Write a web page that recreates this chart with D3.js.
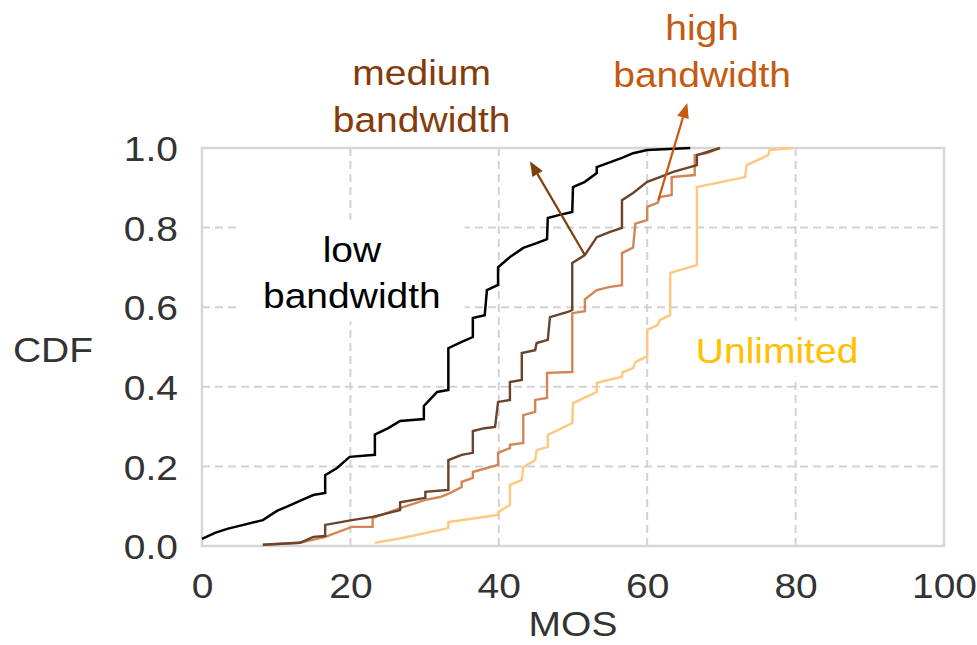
<!DOCTYPE html>
<html>
<head>
<meta charset="utf-8">
<script src="https://cdn.jsdelivr.net/npm/d3@7"></script>
<style>
    body { margin: 0; background: #fff; }
    text { font-family: "Liberation Sans", Arial, sans-serif; }
</style>
</head>
<body>
<svg id="chart" width="977" height="645"></svg>
<script>
const xTicks = [0, 20, 40, 60, 80, 100]
const yTicks = [0, 0.2, 0.4, 0.6, 0.8, 1.0]

// MOS / CDF, one pair of arrays per bandwidth setting
const lowX = [0, 1.75, 3.4, 8.2, 10.1, 11.6, 13.5, 15.0, 16.6, 16.6, 18.2, 19.9, 23.3, 23.3, 25.1, 26.7, 29.9, 29.9, 31.7, 33.2, 33.2, 35.0, 36.5, 36.5, 38.1, 38.4, 39.9, 39.9, 41.5, 43.3, 45.1, 46.5, 46.6, 48.2, 49.9, 50.0, 51.6, 53.2, 53.2, 56.6, 58.1, 60.0, 65.8]
const lowY = [0.018, 0.033, 0.043, 0.065, 0.088, 0.10, 0.116, 0.128, 0.133, 0.178, 0.196, 0.224, 0.229, 0.28, 0.296, 0.314, 0.319, 0.352, 0.387, 0.392, 0.497, 0.513, 0.525, 0.573, 0.58, 0.643, 0.656, 0.70, 0.726, 0.749, 0.761, 0.771, 0.824, 0.832, 0.839, 0.902, 0.915, 0.937, 0.952, 0.975, 0.987, 0.995, 1.0]

const mediumX = [8.2, 13.2, 15.0, 16.6, 16.6, 20.2, 23.0, 26.7, 26.7, 30.1, 30.1, 33.2, 33.2, 35.0, 36.5, 36.5, 38.1, 39.5, 39.9, 41.5, 41.5, 43.1, 43.1, 44.9, 45.1, 46.6, 46.9, 49.3, 49.9, 49.9, 51.6, 53.2, 55.0, 56.6, 56.6, 58.1, 60.0, 61.7, 63.5, 65.4, 66.7, 66.7, 68.1, 69.8]
const mediumY = [0.003, 0.008, 0.023, 0.025, 0.053, 0.065, 0.073, 0.09, 0.11, 0.121, 0.136, 0.141, 0.216, 0.229, 0.234, 0.289, 0.296, 0.299, 0.362, 0.367, 0.412, 0.417, 0.485, 0.492, 0.51, 0.518, 0.575, 0.588, 0.593, 0.711, 0.731, 0.776, 0.789, 0.799, 0.869, 0.887, 0.915, 0.927, 0.94, 0.95, 0.957, 0.982, 0.99, 1.0]

const highX = [8.2, 13.2, 16.6, 20.2, 23.0, 23.0, 26.7, 30.1, 32.1, 33.4, 35.0, 35.0, 36.5, 36.5, 38.4, 39.9, 39.9, 41.5, 41.5, 43.3, 43.3, 44.9, 44.9, 46.5, 46.5, 49.9, 49.9, 51.6, 51.6, 53.2, 55.0, 56.6, 56.6, 58.1, 58.4, 60.0, 60.0, 61.4, 61.7, 63.3, 63.3, 66.4, 66.4, 68.1, 69.8]
const highY = [0.003, 0.008, 0.023, 0.048, 0.048, 0.07, 0.095, 0.116, 0.123, 0.133, 0.148, 0.161, 0.171, 0.186, 0.196, 0.204, 0.234, 0.246, 0.254, 0.259, 0.329, 0.337, 0.367, 0.372, 0.435, 0.437, 0.585, 0.59, 0.62, 0.643, 0.651, 0.655, 0.736, 0.75, 0.81, 0.819, 0.852, 0.862, 0.877, 0.882, 0.927, 0.932, 0.982, 0.987, 1.0]

const unlimitedX = [23.3, 27.0, 33.2, 33.2, 39.9, 39.9, 41.5, 41.5, 43.1, 43.3, 44.9, 45.1, 46.6, 46.6, 49.9, 50.0, 53.2, 53.2, 56.6, 56.7, 58.1, 58.4, 60.0, 60.0, 61.4, 61.7, 63.1, 63.1, 66.7, 66.7, 73.2, 73.4, 76.3, 76.5, 79.6]
const unlimitedY = [0.008, 0.02, 0.045, 0.06, 0.078, 0.085, 0.103, 0.153, 0.166, 0.198, 0.216, 0.241, 0.249, 0.279, 0.309, 0.359, 0.387, 0.41, 0.425, 0.437, 0.447, 0.462, 0.477, 0.543, 0.555, 0.568, 0.58, 0.686, 0.706, 0.902, 0.927, 0.957, 0.982, 0.995, 1.0]

const width = 977
const height = 645
const margin = {top: 148, right: 33, bottom: 99, left: 202}
const squash = 0.9   // text in the figure is a bit flattened
const fontSize = 39

const svg = d3.select("#chart")
svg.append("rect").attr("width", width).attr("height", height).attr("fill", "#fff")

const x = d3.scaleLinear().domain([0, 100]).range([margin.left, width - margin.right])
const y = d3.scaleLinear().domain([0, 1]).range([height - margin.bottom, margin.top])

// dashed grid
svg.append("g")
    .selectAll("line")
    .data(xTicks.slice(1, -1))
    .join("line")
    .attr("x1", d => x(d)).attr("x2", d => x(d))
    .attr("y1", y(0)).attr("y2", y(1))
    .attr("stroke", "#d2d2d2").attr("stroke-width", 2).attr("stroke-dasharray", "8,5")
svg.append("g")
    .selectAll("line")
    .data(yTicks.slice(1, -1))
    .join("line")
    .attr("x1", x(0)).attr("x2", x(100))
    .attr("y1", d => y(d)).attr("y2", d => y(d))
    .attr("stroke", "#d2d2d2").attr("stroke-width", 2).attr("stroke-dasharray", "8,5")

function label(px, py, lines, color, lineGap) {
    const g = svg.append("g")
    lines.forEach((str, i) => {
        g.append("g")
            .attr("transform", `translate(${px},${py + i * lineGap})`)
            .append("text")
            .attr("transform", `scale(1,${squash})`)
            .attr("text-anchor", "middle")
            .attr("fill", color)
            .style("font-size", fontSize + "px")
            .text(str)
    })
    return g
}

// labels inside the plot sit on white boxes that hide the grid
function boxed(g) {
    const b = g.node().getBBox()
    g.insert("rect", ":first-child")
        .attr("x", b.x - 24).attr("y", b.y - 10)
        .attr("width", b.width + 48).attr("height", b.height + 16)
        .attr("fill", "#fff")
}

boxed(label(x(20.2), y(0.714), ["low", "bandwidth"], "#000", 46))
boxed(label(x(77.5), y(0.46), ["Unlimited"], "#ffc000", 0))

// frame
svg.append("rect")
    .attr("x", x(0)).attr("y", y(1))
    .attr("width", x(100) - x(0)).attr("height", y(0) - y(1))
    .attr("fill", "none").attr("stroke", "#d6d6d6").attr("stroke-width", 2.5)

// curves
const series = [
    {xs: unlimitedX, ys: unlimitedY, color: "#ffc77f", w: 2.4},
    {xs: highX, ys: highY, color: "#d38555", w: 2.4},
    {xs: mediumX, ys: mediumY, color: "#6a432a", w: 2.4},
    {xs: lowX, ys: lowY, color: "#000000", w: 2.5}
]
const line = d3.line().x(d => x(d[0])).y(d => y(d[1]))
svg.append("g")
    .selectAll("path")
    .data(series)
    .join("path")
    .attr("d", s => line(d3.zip(s.xs, s.ys)))
    .attr("fill", "none")
    .attr("stroke", s => s.color)
    .attr("stroke-width", s => s.w)
    .attr("stroke-linejoin", "miter")

// axes
const xAxis = svg.append("g")
    .attr("transform", `translate(0,${y(0)})`)
    .call(d3.axisBottom(x).tickValues(xTicks).tickSize(0).tickPadding(0).tickFormat(d3.format("d")))
xAxis.select(".domain").remove()
xAxis.selectAll("text")
    .attr("y", 52 / squash).attr("dy", 0)
    .attr("transform", `scale(1,${squash})`)
    .attr("fill", "#333")
    .style("font-size", fontSize + "px")
    .style("font-family", '"Liberation Sans", Arial, sans-serif')

const yAxis = svg.append("g")
    .attr("transform", `translate(${x(0)},0)`)
    .call(d3.axisLeft(y).tickValues(yTicks).tickSize(0).tickPadding(24).tickFormat(d3.format(".1f")))
yAxis.select(".domain").remove()
yAxis.selectAll("text")
    .attr("dy", "0.36em")
    .attr("transform", `scale(1,${squash})`)
    .attr("fill", "#333")
    .style("font-size", fontSize + "px")
    .style("font-family", '"Liberation Sans", Arial, sans-serif')

label(53, 362, ["CDF"], "#333", 0)
label(x(50), 636, ["MOS"], "#333", 0)

// annotations above the plot
label(x(29.6), y(1.158), ["medium", "bandwidth"], "#843c0c", 47)
label(x(67.4), y(1.271), ["high", "bandwidth"], "#c55a11", 47)

function arrow(from, to, color) {
    const x1 = x(from[0]), y1 = y(from[1]), x2 = x(to[0]), y2 = y(to[1])
    const a = Math.atan2(y2 - y1, x2 - x1)
    const len = 15, half = 6
    const bx = x2 - len * Math.cos(a), by = y2 - len * Math.sin(a)
    svg.append("line")
        .attr("x1", x1).attr("y1", y1).attr("x2", bx).attr("y2", by)
        .attr("stroke", color).attr("stroke-width", 2.2)
    svg.append("path")
        .attr("d", `M${x2},${y2}L${bx + half * Math.sin(a)},${by - half * Math.cos(a)}L${bx - half * Math.sin(a)},${by + half * Math.cos(a)}Z`)
        .attr("fill", color)
}
arrow([51.6, 0.731], [44.2, 0.967], "#7f3f0a")
arrow([61.5, 0.869], [65.4, 1.113], "#c55a11")
</script>
</body>
</html>
